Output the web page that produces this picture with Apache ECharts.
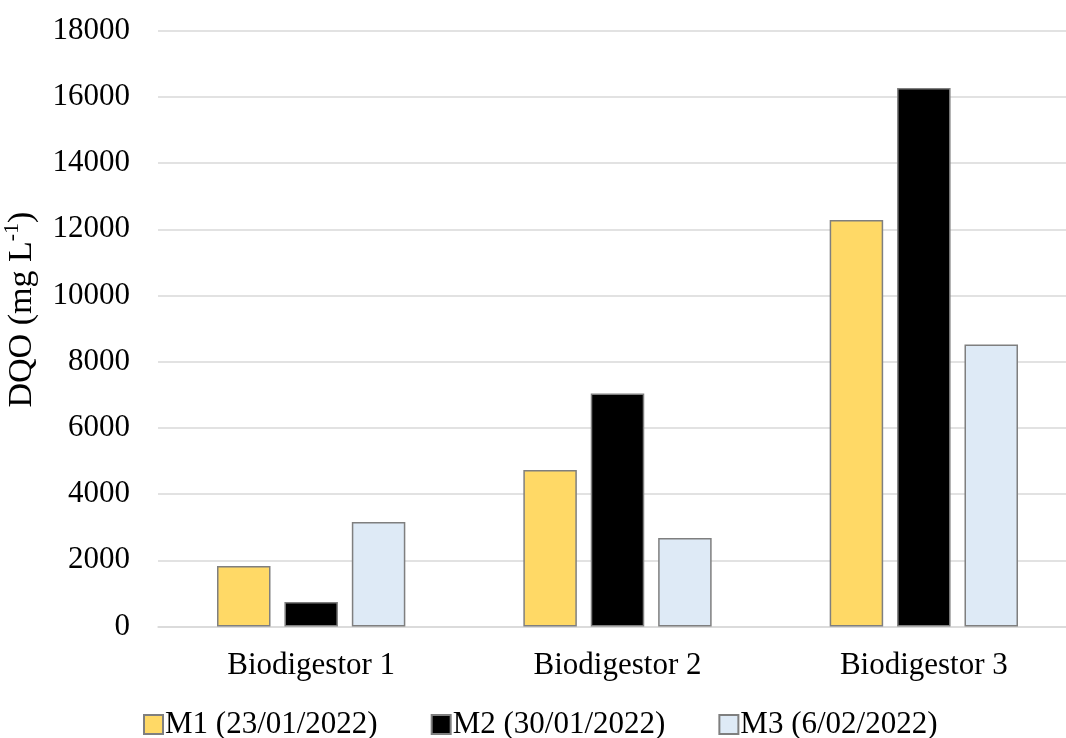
<!DOCTYPE html>
<html>
<head>
<meta charset="utf-8">
<script src="https://cdn.jsdelivr.net/npm/echarts@6/dist/echarts.min.js"></script>
<style>
html,body{margin:0;padding:0;background:#fff;overflow:hidden;}
#chart{width:1077px;height:738px;}
</style>
</head>
<body>
<div id="chart"></div>
<script>
const categories = ['Biodigestor 1', 'Biodigestor 2', 'Biodigestor 3'];
const seriesNames = ['M1 (23/01/2022)', 'M2 (30/01/2022)', 'M3 (6/02/2022)'];
const m1Values = [1830, 4725, 12280];
const m2Values = [740, 7040, 16270];
const m3Values = [3160, 2670, 8520];
const seriesColors = ['#FFD966', '#000000', '#DEEAF6'];
const yMin = 0, yMax = 18000, yInterval = 2000;

const FONT = '"Liberation Serif", "Times New Roman", serif';
const chart = echarts.init(document.getElementById('chart'));
const dataSets = [m1Values, m2Values, m3Values];

chart.setOption({
  backgroundColor: '#ffffff',
  animation: false,
  textStyle: { fontFamily: FONT, color: '#000' },
  grid: { left: 158, right: 0, top: 30.7, bottom: 111.5, containLabel: false, outerBoundsMode: 'none' },
  legend: {
    left: 138,
    top: 704,
    itemWidth: 19,
    itemHeight: 19,
    itemGap: 53,
    icon: 'rect',
    textStyle: { fontFamily: FONT, fontSize: 31, color: '#000', padding: [0, 0, 0, -3] },
    data: seriesNames
  },
  xAxis: {
    type: 'category',
    data: categories,
    axisLine: { lineStyle: { color: '#D9D9D9', width: 1.5 } },
    axisTick: { show: false },
    axisLabel: { fontFamily: FONT, fontSize: 31, color: '#000', margin: 24 }
  },
  yAxis: {
    type: 'value',
    min: yMin,
    max: yMax,
    interval: yInterval,
    name: '{a|DQO (mg L}{s|-1}{a|)}',
    nameLocation: 'middle',
    nameGap: 119,
    nameRotate: 90,
    nameTextStyle: {
      padding: [0, 0, 0, 38],
      rich: {
        a: { fontFamily: FONT, fontSize: 34, color: '#000', lineHeight: 38, verticalAlign: 'bottom' },
        s: { fontFamily: FONT, fontSize: 22, color: '#000', lineHeight: 38, verticalAlign: 'top' }
      }
    },
    axisLine: { show: false },
    axisTick: { show: false },
    splitLine: { lineStyle: { color: '#D9D9D9', width: 1.5 } },
    axisLabel: { fontFamily: FONT, fontSize: 31, color: '#000', margin: 28, formatter: v => String(v) }
  },
  series: seriesNames.map((name, i) => ({
    name: name,
    type: 'bar',
    data: dataSets[i],
    barWidth: 53.5,
    barGap: '26%',
    itemStyle: { color: seriesColors[i], borderColor: '#7F7F7F', borderWidth: 1.5 }
  }))
});
</script>
</body>
</html>
